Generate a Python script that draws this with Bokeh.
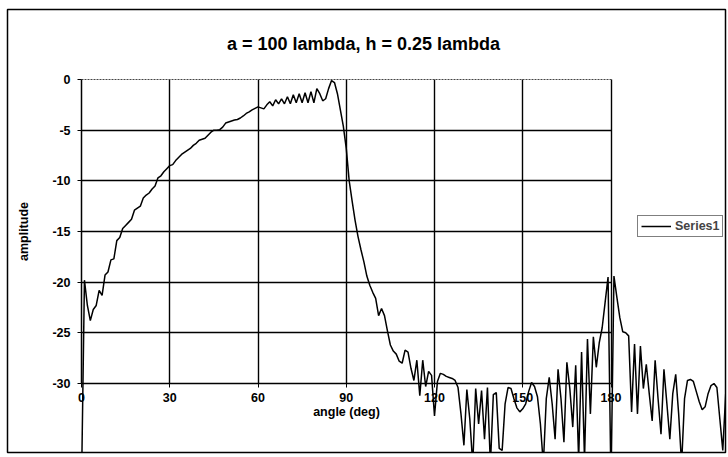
from bokeh.plotting import figure
from bokeh.models import Range1d, LinearAxis, FixedTicker, Legend, LegendItem, Grid, Label
from bokeh.embed import file_html
from bokeh.resources import INLINE

# ---- data ----
angle = list(range(0, 220))
amplitude = [
    -40.0, -19.8, -22.3, -23.8, -22.7, -22.3, -20.8, -21.3, -19.3, -19.0,
    -17.8, -17.7, -15.9, -15.6, -14.7, -14.4, -14.1, -13.8, -12.9, -12.7,
    -12.5, -11.7, -11.4, -11.2, -10.8, -10.5, -9.7, -9.5, -9.1, -8.8,
    -8.5, -8.4, -8.0, -7.7, -7.4, -7.2, -7.0, -6.8, -6.5, -6.3,
    -6.0, -5.9, -5.8, -5.5, -5.2, -5.0, -5.0, -4.95, -4.7, -4.3,
    -4.2, -4.1, -4.0, -3.95, -3.8, -3.6, -3.35, -3.2, -3.0, -2.85,
    -2.7, -2.8, -2.9, -2.5, -2.2, -2.6, -2.0, -2.4, -1.9, -2.4,
    -1.7, -2.4, -1.5, -2.3, -1.4, -2.3, -1.3, -2.3, -1.2, -2.3,
    -0.9, -1.4, -2.1, -1.9, -0.9, -0.1, -0.3, -1.4, -3.0, -4.6,
    -6.8, -10.0, -12.0, -13.9, -15.5, -16.8, -18.0, -19.4, -20.3, -21.0,
    -21.6, -23.3, -22.6, -23.3, -24.8, -26.2, -26.8, -27.1, -27.8, -28.0,
    -26.7, -26.9, -28.5, -29.7, -27.7, -31.2, -27.7, -30.3, -28.8, -29.2,
    -33.2, -29.8, -29.0, -29.1, -29.3, -29.4, -29.5, -29.7, -30.4, -33.0,
    -36.1, -30.6, -33.5, -38.0, -30.5, -34.0, -30.7, -35.5, -30.4, -38.0,
    -31.1, -30.9, -36.4, -36.6, -32.0, -30.4, -30.5, -31.5, -32.4, -32.8,
    -32.5, -32.0, -30.8, -29.9, -30.3, -31.3, -34.0, -38.0, -31.5, -29.4,
    -32.0, -35.5, -28.6, -31.5, -35.8, -27.9, -30.5, -34.3, -28.2, -37.5,
    -26.9, -37.5, -25.6, -33.0, -25.4, -28.4, -26.0, -24.5, -22.0, -19.5,
    -40.0, -19.4, -21.5, -23.5, -24.9, -25.0, -25.3, -32.8, -26.1, -33.0,
    -26.3, -30.5, -28.1, -31.0, -33.7, -27.7, -31.5, -35.0, -28.6, -32.0,
    -35.5, -31.0, -29.1, -33.0, -38.0, -31.5, -29.7, -29.6, -29.8, -30.8,
    -31.8, -32.6, -32.3, -31.0, -30.2, -30.0, -30.4, -33.5, -36.6, -31.0,
]

x_ticks = [0, 30, 60, 90, 120, 150, 180]
y_ticks = [0, -5, -10, -15, -20, -25, -30]
x_grid_ticks = [30, 60, 90, 120, 150, 180]
y_grid_ticks = [-5, -10, -15, -20, -25]
top_border = [0]

title_text = "a = 100 lambda, h = 0.25 lambda"
x_label = "angle (deg)"
y_label = "amplitude"
series_name = "Series1"

FONT = "Liberation Sans"

# ---- layout ----
W, H = 727, 454
LEFT, TOP, RIGHT, BOTTOM = 7, 9, 725, 452          # outer chart border on the page
FW, FH = RIGHT - LEFT, BOTTOM - TOP
sx = (610.5 - 81.0) / 180.0                          # px per degree
sy = (383.0 - 79.0) / 30.0                           # px per amplitude unit
x0 = -(81.0 - LEFT) / sx
x1 = x0 + FW / sx
y1 = (79.0 - TOP) / sy
y0 = y1 - FH / sy

p = figure(width=W, height=H, output_backend="svg", toolbar_location=None,
           x_range=Range1d(x0, x1), y_range=Range1d(y0, y1),
           x_axis_type=None, y_axis_type=None,
           min_border_left=LEFT, min_border_right=W - RIGHT,
           min_border_top=TOP, min_border_bottom=H - BOTTOM)
p.outline_line_color = "black"
p.outline_line_width = 1.5
p.background_fill_color = "white"
p.border_fill_color = "white"

# title (drawn inside the bordered chart area, like the original)
title = Label(x=363 - LEFT, y=BOTTOM - 43, x_units="screen", y_units="screen",
              text=title_text, text_align="center", text_baseline="middle",
              text_font=FONT, text_font_size="18px", text_font_style="bold",
              text_color="black")
p.add_layout(title)

# axes at fixed positions (x axis sits at -30, y axis at 0)
xaxis = LinearAxis(fixed_location=-30, bounds=(0, 180),
                   ticker=FixedTicker(ticks=x_ticks), axis_label=x_label)
yaxis = LinearAxis(fixed_location=0, bounds=(-30, 0),
                   ticker=FixedTicker(ticks=y_ticks), axis_label=y_label)
yaxis.major_label_overrides = {t: str(t) for t in y_ticks}
xaxis.major_label_overrides = {t: str(t) for t in x_ticks}
for ax in (xaxis, yaxis):
    ax.axis_line_color = "black"
    ax.axis_line_width = 1.5
    ax.major_tick_line_color = "black"
    ax.major_tick_line_width = 1
    ax.major_tick_out = 4
    ax.major_tick_in = 0
    ax.minor_tick_line_color = None
    ax.major_label_text_font = FONT
    ax.major_label_text_font_size = "12.5px"
    ax.major_label_text_font_style = "bold"
    ax.major_label_text_color = "black"
    ax.axis_label_text_font = FONT
    ax.axis_label_text_font_size = "12.5px"
    ax.axis_label_text_font_style = "bold"
    ax.axis_label_text_color = "black"
xaxis.major_label_standoff = 5
xaxis.axis_label_standoff = 0
yaxis.major_label_standoff = 7
yaxis.axis_label_standoff = 18
p.add_layout(xaxis, "below")
p.add_layout(yaxis, "left")

# grid lines
def add_grid(dim, ticks, cross, color, width, dash):
    g = Grid(dimension=dim, ticker=FixedTicker(ticks=ticks),
             grid_line_color=color, grid_line_width=width, grid_line_dash=dash)
    try:
        g.cross_bounds = cross
        p.add_layout(g)
    except Exception:
        if dim == 0:
            p.segment(x0=ticks, x1=ticks, y0=[cross[0]] * len(ticks), y1=[cross[1]] * len(ticks),
                      line_color=color, line_width=width, line_dash=dash)
        else:
            p.segment(y0=ticks, y1=ticks, x0=[cross[0]] * len(ticks), x1=[cross[1]] * len(ticks),
                      line_color=color, line_width=width, line_dash=dash)

add_grid(0, x_grid_ticks, (y_ticks[-1], y_ticks[0]), "black", 1.4, "solid")
add_grid(1, y_grid_ticks, (x_ticks[0], x_ticks[-1]), "black", 1.7, "solid")
add_grid(1, top_border, (x_ticks[0], x_ticks[-1]), "#444444", 1.2, "2 1")

r = p.line(angle, amplitude, line_color="black", line_width=1.5)

legend = Legend(items=[LegendItem(label=series_name, renderers=[r])],
                location=(637 - LEFT, BOTTOM - 237))
legend.border_line_color = "black"
legend.border_line_width = 1.5
legend.background_fill_color = "white"
legend.label_text_font = FONT
legend.label_text_font_size = "12.5px"
legend.label_text_font_style = "bold"
legend.padding = 3
legend.margin = 0
legend.spacing = 0
legend.glyph_width = 30
legend.glyph_height = 12
legend.label_height = 12
legend.label_standoff = 4
p.add_layout(legend, "center")

open("out.html", "w").write(file_html(p, INLINE))
